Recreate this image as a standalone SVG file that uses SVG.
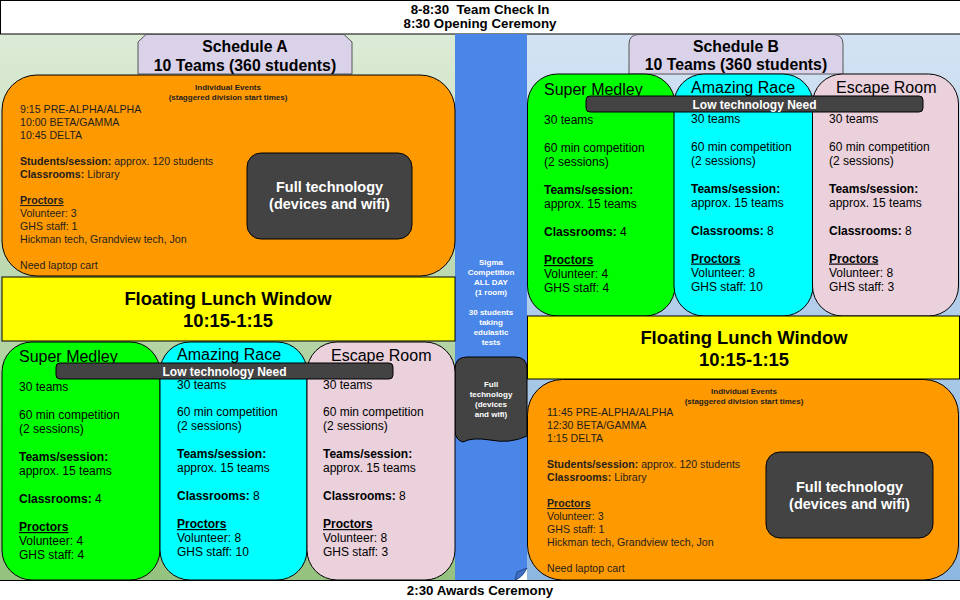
<svg xmlns="http://www.w3.org/2000/svg" width="960" height="600" viewBox="0 0 960 600">
<defs>
<linearGradient id="gA" x1="0" y1="0" x2="0" y2="1"><stop offset="0" stop-color="#dcebd6"/><stop offset="1" stop-color="#95c27f"/></linearGradient>
<linearGradient id="gB" x1="0" y1="0" x2="0" y2="1"><stop offset="0" stop-color="#d3e3f3"/><stop offset="1" stop-color="#8eb7e0"/></linearGradient>
<style>
text{font-family:"Liberation Sans",Arial,Helvetica,sans-serif;fill:#000}
.hd{font-size:13.3px;font-weight:bold;white-space:pre}
.tab{font-size:15.8px;font-weight:bold;text-anchor:middle}
.ln{font-size:18.4px;font-weight:bold;text-anchor:middle}
.ttl{font-size:16px}
.bd{font-size:12px}
.ev{font-size:10.6px;fill:#1e1e1e}
.sm{font-size:8px;font-weight:bold;text-anchor:middle}
.ft{font-size:14.5px;font-weight:bold;fill:#fff;text-anchor:middle}
.lt{font-size:12px;font-weight:bold;fill:#fff;text-anchor:middle}
.b{font-weight:bold}
.u{font-weight:bold;text-decoration:underline}
.bx{stroke:#000;stroke-width:1}
.dk{fill:#434343;stroke:#000;stroke-width:1}
</style>
</defs>
<rect width="960" height="600" fill="#fff"/>
<g id="panelA"><rect x="0" y="34" width="455" height="546" fill="url(#gA)"/></g>
<g id="panelB"><rect x="527" y="34" width="433" height="546" fill="url(#gB)"/></g>
<g id="header">
<line x1="0" y1="0.5" x2="960" y2="0.5" stroke="#000"/>
<line x1="0.5" y1="0" x2="0.5" y2="34" stroke="#000"/>
<line x1="0" y1="34" x2="960" y2="34" stroke="#000"/>
<text class="hd" x="480" y="14" text-anchor="middle" xml:space="preserve">8-8:30  Team Check In</text>
<text class="hd" x="480" y="28" text-anchor="middle">8:30 Opening Ceremony</text>
</g>
<g id="sigma">
<path d="M455,34 H527 V568 Q522,578 515,580 H455 Z" fill="#4a86e8"/>
<path d="M527,568 Q522,578 515,580 L517,572 Z" fill="#3c6fc4" stroke="#1d3f7a" stroke-width="0.8"/>
<text class="sm" x="491" y="265" style="fill:#fff">Sigma</text>
<text class="sm" x="491" y="275" style="fill:#fff">Competition</text>
<text class="sm" x="491" y="285" style="fill:#fff">ALL DAY</text>
<text class="sm" x="491" y="295" style="fill:#fff">(1 room)</text>
<text class="sm" x="491" y="315" style="fill:#fff">30 students</text>
<text class="sm" x="491" y="325" style="fill:#fff">taking</text>
<text class="sm" x="491" y="335" style="fill:#fff">edulastic</text>
<text class="sm" x="491" y="345" style="fill:#fff">tests</text>
</g>
<g id="sigmaTech">
<path d="M467,357 H515 Q527,357 527,369 V436 Q510,444 490,440 Q472,437 463,442 Q455,440 455,430 V369 Q455,357 467,357 Z" class="dk"/>
<text class="sm" x="491" y="387" style="fill:#fff">Full</text>
<text class="sm" x="491" y="397" style="fill:#fff">technology</text>
<text class="sm" x="491" y="407" style="fill:#fff">(devices</text>
<text class="sm" x="491" y="417" style="fill:#fff">and wifi)</text>
</g>
<g id="scheduleA">
<path d="M146,34.5 H344 L352,42 V74 H138 V42 Z" fill="#d9d2e9" stroke="#555" stroke-width="1"/>
<text class="tab" x="245" y="52">Schedule A</text>
<text class="tab" x="245" y="71">10 Teams (360 students)</text>
</g>
<g id="individualA">
<rect x="2" y="75" width="453" height="201" rx="35" fill="#ff9900" class="bx"/>
<text class="sm" x="228" y="90" style="fill:#1e1e1e">Individual Events</text>
<text class="sm" x="228" y="100" style="fill:#1e1e1e">(staggered division start times)</text>
<text class="ev" x="20" y="113">9:15 PRE-ALPHA/ALPHA</text>
<text class="ev" x="20" y="126">10:00 BETA/GAMMA</text>
<text class="ev" x="20" y="139">10:45 DELTA</text>
<text class="ev" x="20" y="165"><tspan class="b">Students/session:</tspan> approx. 120 students</text>
<text class="ev" x="20" y="178"><tspan class="b">Classrooms:</tspan> Library</text>
<text class="ev" x="20" y="204"><tspan class="u">Proctors</tspan></text>
<text class="ev" x="20" y="217">Volunteer: 3</text>
<text class="ev" x="20" y="230">GHS staff: 1</text>
<text class="ev" x="20" y="243">Hickman tech, Grandview tech, Jon</text>
<text class="ev" x="20" y="269">Need laptop cart</text>
</g>
<g id="techA">
<rect x="247" y="153" width="165" height="86" rx="14" class="dk"/>
<text class="ft" x="329.5" y="192">Full technology</text>
<text class="ft" x="329.5" y="209">(devices and wifi)</text>
</g>
<g id="lunchA">
<rect x="2" y="277" width="453" height="64" fill="#ffff00" class="bx"/>
<text class="ln" x="228" y="305">Floating Lunch Window</text>
<text class="ln" x="228" y="327">10:15-1:15</text>
</g>
<g id="medleyA">
<rect x="2" y="342" width="158" height="238" rx="30" fill="#00ff00" class="bx"/>
<text class="ttl" x="19" y="362">Super Medley</text>
<text class="bd" x="19" y="391">30 teams</text>
<text class="bd" x="19" y="419">60 min competition</text>
<text class="bd" x="19" y="433">(2 sessions)</text>
<text class="bd b" x="19" y="461">Teams/session:</text>
<text class="bd" x="19" y="475">approx. 15 teams</text>
<text class="bd" x="19" y="503"><tspan class="b">Classrooms:</tspan> 4</text>
<text class="bd u" x="19" y="531">Proctors</text>
<text class="bd" x="19" y="545">Volunteer: 4</text>
<text class="bd" x="19" y="559">GHS staff: 4</text>
</g>
<g id="raceA">
<rect x="160" y="342" width="147" height="238" rx="30" fill="#00ffff" class="bx"/>
<text class="ttl" x="177" y="360">Amazing Race</text>
<text class="bd" x="177" y="388.5">30 teams</text>
<text class="bd" x="177" y="416">60 min competition</text>
<text class="bd" x="177" y="430">(2 sessions)</text>
<text class="bd b" x="177" y="458">Teams/session:</text>
<text class="bd" x="177" y="472">approx. 15 teams</text>
<text class="bd" x="177" y="500"><tspan class="b">Classrooms:</tspan> 8</text>
<text class="bd u" x="177" y="528">Proctors</text>
<text class="bd" x="177" y="542">Volunteer: 8</text>
<text class="bd" x="177" y="556">GHS staff: 10</text>
</g>
<g id="escapeA">
<rect x="307" y="342" width="148" height="238" rx="30" fill="#ead1dc" class="bx"/>
<text class="ttl" x="331" y="361">Escape Room</text>
<text class="bd" x="323" y="388.5">30 teams</text>
<text class="bd" x="323" y="416">60 min competition</text>
<text class="bd" x="323" y="430">(2 sessions)</text>
<text class="bd b" x="323" y="458">Teams/session:</text>
<text class="bd" x="323" y="472">approx. 15 teams</text>
<text class="bd" x="323" y="500"><tspan class="b">Classrooms:</tspan> 8</text>
<text class="bd u" x="323" y="528">Proctors</text>
<text class="bd" x="323" y="542">Volunteer: 8</text>
<text class="bd" x="323" y="556">GHS staff: 3</text>
</g>
<g id="lowTechA">
<rect x="56" y="363" width="337" height="16" rx="4" class="dk"/>
<text class="lt" x="224.5" y="376">Low technology Need</text>
</g>
<g id="scheduleB">
<path d="M639,34.5 H833 Q843,34.5 843,44 V74 H629 V44 Q629,34.5 639,34.5 Z" fill="#d9d2e9" stroke="#555" stroke-width="1"/>
<text class="tab" x="736" y="52">Schedule B</text>
<text class="tab" x="736" y="70">10 Teams (360 students)</text>
</g>
<g id="medleyB">
<rect x="527.5" y="74" width="147.5" height="242" rx="30" fill="#00ff00" class="bx"/>
<text class="ttl" x="544" y="95">Super Medley</text>
<text class="bd" x="544" y="124">30 teams</text>
<text class="bd" x="544" y="152">60 min competition</text>
<text class="bd" x="544" y="166">(2 sessions)</text>
<text class="bd b" x="544" y="194">Teams/session:</text>
<text class="bd" x="544" y="208">approx. 15 teams</text>
<text class="bd" x="544" y="236"><tspan class="b">Classrooms:</tspan> 4</text>
<text class="bd u" x="544" y="264">Proctors</text>
<text class="bd" x="544" y="278">Volunteer: 4</text>
<text class="bd" x="544" y="292">GHS staff: 4</text>
</g>
<g id="raceB">
<rect x="674" y="74" width="139" height="242" rx="30" fill="#00ffff" class="bx"/>
<text class="ttl" x="691" y="93">Amazing Race</text>
<text class="bd" x="691" y="122.5">30 teams</text>
<text class="bd" x="691" y="150.5">60 min competition</text>
<text class="bd" x="691" y="164.5">(2 sessions)</text>
<text class="bd b" x="691" y="192.5">Teams/session:</text>
<text class="bd" x="691" y="206.5">approx. 15 teams</text>
<text class="bd" x="691" y="234.5"><tspan class="b">Classrooms:</tspan> 8</text>
<text class="bd u" x="691" y="262.5">Proctors</text>
<text class="bd" x="691" y="276.5">Volunteer: 8</text>
<text class="bd" x="691" y="290.5">GHS staff: 10</text>
</g>
<g id="escapeB">
<rect x="812.5" y="74" width="146" height="242" rx="30" fill="#ead1dc" class="bx"/>
<text class="ttl" x="836" y="93">Escape Room</text>
<text class="bd" x="829" y="122.5">30 teams</text>
<text class="bd" x="829" y="150.5">60 min competition</text>
<text class="bd" x="829" y="164.5">(2 sessions)</text>
<text class="bd b" x="829" y="192.5">Teams/session:</text>
<text class="bd" x="829" y="206.5">approx. 15 teams</text>
<text class="bd" x="829" y="234.5"><tspan class="b">Classrooms:</tspan> 8</text>
<text class="bd u" x="829" y="262.5">Proctors</text>
<text class="bd" x="829" y="276.5">Volunteer: 8</text>
<text class="bd" x="829" y="290.5">GHS staff: 3</text>
</g>
<g id="lowTechB">
<rect x="586" y="96" width="337" height="16" rx="4" class="dk"/>
<text class="lt" x="754.5" y="109">Low technology Need</text>
</g>
<g id="lunchB">
<rect x="527.5" y="316" width="432" height="63" fill="#ffff00" class="bx"/>
<text class="ln" x="744" y="344">Floating Lunch Window</text>
<text class="ln" x="744" y="366">10:15-1:15</text>
</g>
<g id="individualB">
<rect x="527.5" y="379.5" width="431" height="200.5" rx="35" fill="#ff9900" class="bx"/>
<text class="sm" x="744" y="394" style="fill:#1e1e1e">Individual Events</text>
<text class="sm" x="744" y="404" style="fill:#1e1e1e">(staggered division start times)</text>
<text class="ev" x="547" y="416">11:45 PRE-ALPHA/ALPHA</text>
<text class="ev" x="547" y="429">12:30 BETA/GAMMA</text>
<text class="ev" x="547" y="442">1:15 DELTA</text>
<text class="ev" x="547" y="468"><tspan class="b">Students/session:</tspan> approx. 120 students</text>
<text class="ev" x="547" y="481"><tspan class="b">Classrooms:</tspan> Library</text>
<text class="ev" x="547" y="507"><tspan class="u">Proctors</tspan></text>
<text class="ev" x="547" y="520">Volunteer: 3</text>
<text class="ev" x="547" y="533">GHS staff: 1</text>
<text class="ev" x="547" y="546">Hickman tech, Grandview tech, Jon</text>
<text class="ev" x="547" y="572">Need laptop cart</text>
</g>
<g id="techB">
<rect x="766" y="452" width="167" height="86" rx="14" class="dk"/>
<text class="ft" x="849.5" y="492">Full technology</text>
<text class="ft" x="849.5" y="509">(devices and wifi)</text>
</g>
<g id="footer">
<line x1="0" y1="580.5" x2="960" y2="580.5" stroke="#000"/>
<text class="hd" x="480" y="595" text-anchor="middle">2:30 Awards Ceremony</text>
</g>
<g id="connectors"/>
</svg>
